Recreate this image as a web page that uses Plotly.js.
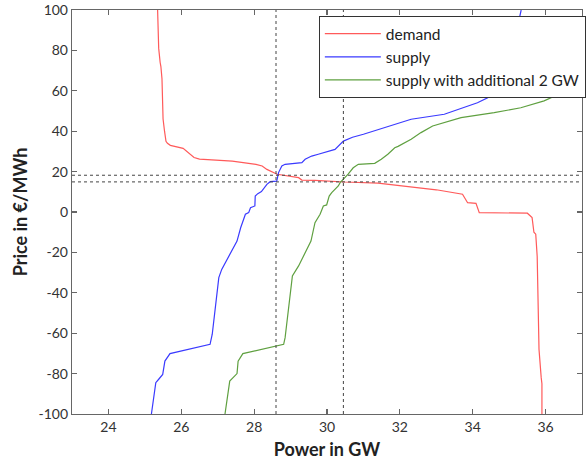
<!DOCTYPE html>
<html>
<head>
<meta charset="utf-8">
<script src="https://cdn.plot.ly/plotly-3.0.1.min.js"></script>
<style>html,body{margin:0;padding:0;background:#fff;}#chart{width:586px;height:463px;}</style>
</head>
<body>
<div id="chart"></div>
<script>
// Demand curve (GW, €/MWh)
const demandPower = [25.35, 25.38, 25.42, 25.44, 25.47, 25.48, 25.50, 25.54, 25.58, 25.62, 25.70, 26.05, 26.20, 26.35, 26.50, 27.40, 28.05, 28.22, 28.35, 28.63, 29.22, 29.31, 29.67, 30.49, 31.40, 32.30, 33.00, 33.72, 33.86, 34.09, 34.18, 35.50, 35.63, 35.68, 35.73, 35.77, 35.82, 35.88, 35.90, 35.90];
const demandPrice = [100, 81, 74, 72, 66, 50, 46, 40, 35, 34, 33, 31.5, 29, 27, 26.2, 25.2, 23.6, 22.8, 21.1, 18.7, 17, 15.8, 15.7, 14.85, 14.3, 12.5, 11, 8.8, 4.6, 4.3, -0.3, -0.6, -2.8, -10, -11, -22, -68, -82, -85, -100];

// Supply curve
const supplyPower = [25.18, 25.30, 25.38, 25.49, 25.55, 25.69, 26.79, 26.85, 27.03, 27.11, 27.53, 27.63, 27.76, 27.85, 27.90, 28.02, 28.03, 28.10, 28.20, 28.35, 28.44, 28.62, 28.67, 28.76, 28.85, 29.31, 29.40, 29.58, 29.76, 30.22, 30.45, 30.70, 31.00, 31.41, 31.68, 32.31, 33.22, 33.63, 34.13, 34.41, 34.54, 34.63, 34.90, 35.15, 35.30, 35.33];
const supplyPrice = [-100, -84.5, -82.8, -80.4, -73.8, -70.1, -65.5, -60.5, -32.5, -28.4, -14.4, -7.8, -1.1, -0.3, 2.1, 3, 7.9, 9.1, 10.1, 13.7, 15, 15.3, 19.5, 22.8, 23.6, 24.4, 26.1, 27.7, 28.6, 31, 35.1, 37, 38.5, 40.9, 42.6, 45.9, 48.4, 50.8, 54.1, 56.6, 60.7, 63.2, 72, 85, 97, 100];

// Supply curve with additional 2 GW
const supply2Power = [27.20, 27.33, 27.53, 27.56, 27.69, 28.81, 28.85, 29.05, 29.22, 29.56, 29.67, 29.81, 29.90, 29.99, 30.06, 30.13, 30.31, 30.36, 30.58, 30.72, 30.86, 31.31, 31.49, 31.67, 31.86, 31.95, 32.31, 32.58, 32.90, 33.68, 34.59, 35.32, 35.96, 36.36, 36.68, 36.86, 36.92, 37.00, 37.10];
const supply2Price = [-100, -83.7, -80, -73.8, -70.1, -65.5, -62.2, -31.7, -26.7, -14.4, -5.3, -1.1, 3, 3.5, 7.9, 9.6, 12.9, 14.5, 18.7, 21.9, 23.6, 24.1, 26.1, 28.6, 31.8, 32.5, 36, 39.3, 42.6, 46.7, 49.2, 51.6, 55, 58.3, 63.2, 71.4, 79.7, 85, 92];

// Equilibrium markers
const equilibriumPower = [28.6, 30.45];
const equilibriumPrice = [18.2, 14.9];

const seriesNames = ['demand', 'supply', 'supply with additional 2 GW'];
const xTicks = [24, 26, 28, 30, 32, 34, 36];
const yTicks = [-100, -80, -60, -40, -20, 0, 20, 40, 60, 80, 100];

const FONT = 'Lato, "Open Sans", sans-serif';

const traces = [
  {x: demandPower, y: demandPrice, name: seriesNames[0], mode: 'lines', line: {color: '#ff5a5a', width: 1.2}},
  {x: supplyPower, y: supplyPrice, name: seriesNames[1], mode: 'lines', line: {color: '#3a3aff', width: 1.2}},
  {x: supply2Power, y: supply2Price, name: seriesNames[2], mode: 'lines', line: {color: '#5fa040', width: 1.2}}
];

const shapes = [];
equilibriumPower.forEach(p => shapes.push({type: 'line', xref: 'x', yref: 'paper', x0: p, x1: p, y0: 0, y1: 1, line: {color: '#444', width: 1, dash: 'dot'}, layer: 'above'}));
equilibriumPrice.forEach(p => shapes.push({type: 'line', xref: 'paper', yref: 'y', x0: 0, x1: 1, y0: p, y1: p, line: {color: '#444', width: 1, dash: 'dot'}, layer: 'above'}));

const axisCommon = {
  showgrid: false, zeroline: false, showline: true, linecolor: '#666', linewidth: 1.2,
  mirror: 'ticks', ticks: 'inside', ticklen: 5, tickwidth: 1.2, tickcolor: '#666',
  tickfont: {family: FONT, size: 14, color: '#333'}
};

const layout = {
  width: 586, height: 463,
  margin: {l: 72, r: 0, t: 10, b: 49},
  paper_bgcolor: '#fff', plot_bgcolor: '#fff',
  showlegend: true,
  legend: {
    x: 0.484, y: 0.985, xanchor: 'left', yanchor: 'top',
    bgcolor: '#fff', bordercolor: '#333', borderwidth: 1,
    font: {family: FONT, size: 15.5, color: '#222'},
    itemwidth: 56,
    tracegroupgap: 0
  },
  xaxis: Object.assign({}, axisCommon, {
    range: [23, 37], tickmode: 'array', tickvals: xTicks, ticktext: xTicks.map(String),
    title: {text: 'Power in GW', font: {family: FONT, size: 18, color: '#222', weight: 'bold'}, standoff: 9}
  }),
  yaxis: Object.assign({}, axisCommon, {
    range: [-100, 100], tickmode: 'array', tickvals: yTicks, ticktext: yTicks.map(String),
    title: {text: 'Price in €/MWh', font: {family: FONT, size: 18, color: '#222', weight: 'bold'}, standoff: 6}
  }),
  shapes: shapes
};

Plotly.newPlot('chart', traces, layout, {displayModeBar: false, staticPlot: true});
</script>
</body>
</html>
